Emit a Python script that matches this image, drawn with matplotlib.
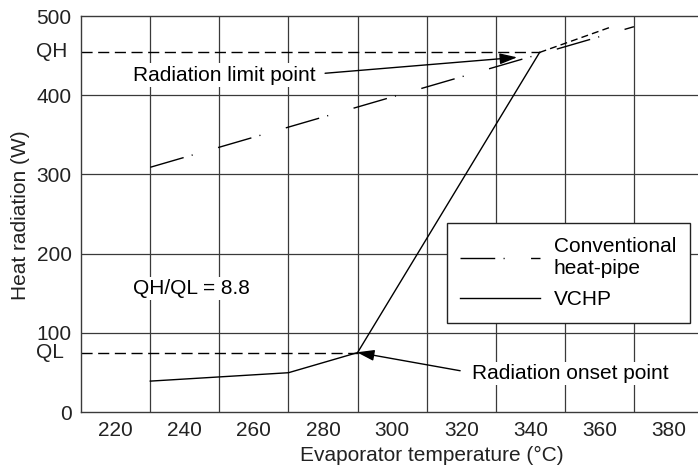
import matplotlib
matplotlib.use("Agg")
import matplotlib.pyplot as plt

plt.rcParams['font.family'] = ['Liberation Sans', 'DejaVu Sans']

# data
temp_vchp = [230, 270, 290, 342.7]
heat_vchp = [39, 49.6, 75, 454]
temp_vchp_ext = [342.7, 363.6]
heat_vchp_ext = [454, 486.5]
temp_conv = [230, 370]
heat_conv = [309, 486.5]
QH = 455
QL = 75
x_ticks = [220, 240, 260, 280, 300, 320, 340, 360, 380]
y_ticks = [0, 100, 200, 300, 400, 500]
x_grid = [230, 250, 270, 290, 310, 330, 350, 370]
y_grid = [100, 200, 300, 400]
limit_pt = (336.2, 447.8)
onset_pt = (289.8, 75.4)

fs = 15
gridc = '#3a3a3a'

fig = plt.figure(figsize=(6.98, 4.73), dpi=100)
ax = fig.add_axes([81.2 / 698, 61 / 473, 621.8 / 698, 396 / 473])
ax.set_xlim(210, 390)
ax.set_ylim(0, 500)

ax.yaxis.remove_overlapping_locs = False
ax.set_xticks(x_ticks)
ax.set_yticks(y_ticks)
ax.set_xticks(x_grid, minor=True)
ax.set_yticks(y_grid, minor=True)
ax.grid(which='minor', color=gridc, linewidth=0.9)
ax.grid(which='major', visible=False)
ax.tick_params(which='both', length=0, labelsize=fs, pad=6.8, colors='#222222')
ax.set_axisbelow(True)
for s in ['left', 'bottom', 'top']:
    ax.spines[s].set_color(gridc)
    ax.spines[s].set_linewidth(1.0)
ax.spines['right'].set_visible(False)

# QH / QL labels on the y axis, left aligned with the numbers
for val, lab in [(QH, 'QH'), (QL, 'QL')]:
    ax.text(-0.0727, val, lab, transform=ax.get_yaxis_transform(), ha='left', va='center',
            fontsize=fs, color='#222222', clip_on=False)

# QH and QL dashed reference lines
ax.plot([210, temp_vchp[-1]], [QH, QH], color='black', lw=1.0, dashes=(8, 4))
ax.plot([210, temp_vchp[2]], [QL, QL], color='black', lw=1.0, dashes=(8, 4))

ax.plot(temp_conv, heat_conv, color='black', lw=1.0, dashes=(25, 6, 0.8, 19),
        label='Conventional\nheat-pipe')
line_vchp, = ax.plot(temp_vchp, heat_vchp, color='black', lw=1.0, label='VCHP')
ax.plot(temp_vchp_ext, heat_vchp_ext, color='black', lw=1.0, dashes=(5, 3))

box = dict(facecolor='white', edgecolor='none', pad=1.5)
ax.text(225, 425.5, 'Radiation limit point', fontsize=fs, ha='left', va='center', bbox=box)
ax.text(323, 49, 'Radiation onset point', fontsize=fs, ha='left', va='center', bbox=box)
ax.text(225, 156, 'QH/QL = 8.8', fontsize=fs, ha='left', va='center', bbox=box)

arrow = dict(arrowstyle='-|>,head_length=0.7,head_width=0.22', color='black', lw=1.0,
             shrinkA=0, shrinkB=0)
ax.annotate('', xy=limit_pt, xytext=(280.6, 427.7), arrowprops=arrow, fontsize=fs)
ax.annotate('', xy=onset_pt, xytext=(319.7, 52.1), arrowprops=arrow, fontsize=fs)

leg = ax.legend(loc='upper left', bbox_to_anchor=(0.588, 0.4765), borderaxespad=0,
                fontsize=fs, frameon=True, fancybox=False, handlelength=3.84,
                handletextpad=0.64, labelspacing=0.6, borderpad=0.65)
leg.get_frame().set_edgecolor('#222222')
leg.get_frame().set_linewidth(1.0)
leg.get_frame().set_alpha(1)

ax.set_xlabel('Evaporator temperature (°C)', fontsize=fs, color='#222222')
ax.xaxis.set_label_coords(0.564, -0.111)
ax.xaxis.label.set_va('center')
ax.set_ylabel('Heat radiation (W)', fontsize=fs, color='#222222')
ax.yaxis.set_label_coords(-0.098, 0.497)
ax.yaxis.label.set_va('center')

fig.savefig('out.png', dpi=100)
